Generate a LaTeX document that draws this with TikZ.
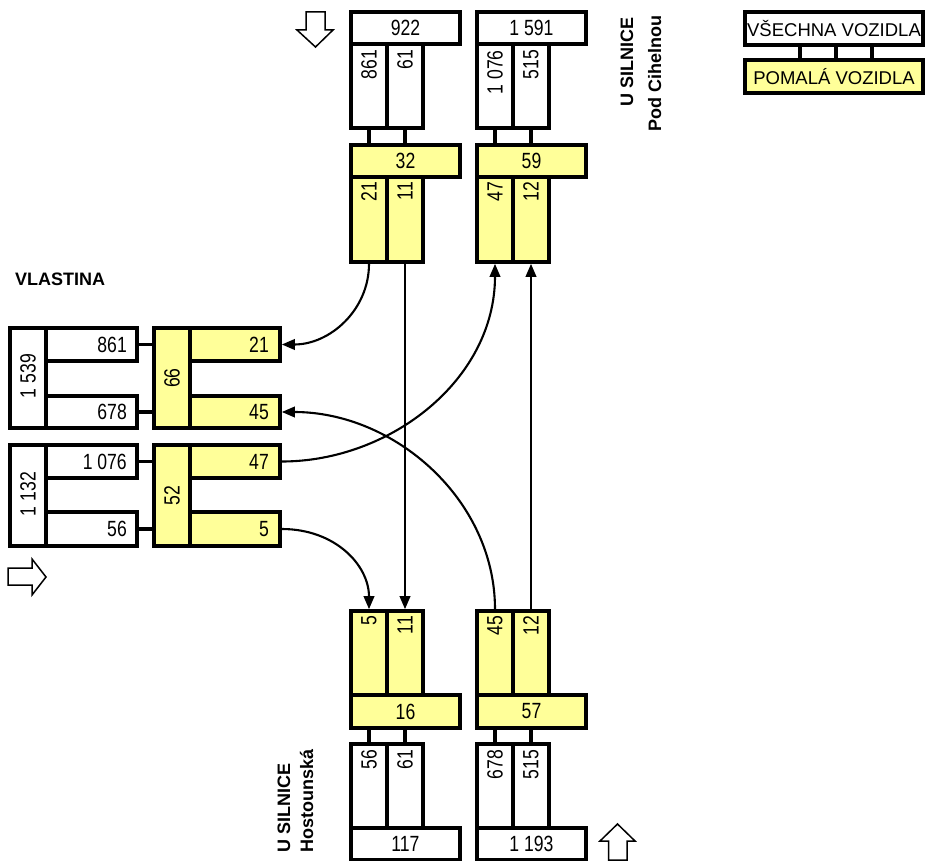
\documentclass[tikz,border=0pt]{standalone}
\usepackage{fontspec}
\setmainfont{Liberation Sans}
\newfontfamily\narrowf[FakeStretch=0.8]{Liberation Sans}
\usetikzlibrary{arrows.meta}
\definecolor{ylw}{RGB}{255,255,153}
\newcommand\rbx[6]{%
  \pgfmathsetmacro\cxx{(#3+#5)/2}\pgfmathsetmacro\cyy{(#4+#6)/2}%
  \pgfmathsetmacro\ww{#5-#3}\pgfmathsetmacro\hh{#6-#4}%
  \node[#1, minimum width=\ww pt, minimum height=\hh pt] (#2) at (\cxx,\cyy) {};}
\tikzset{
  bx/.style={draw, line width=3.6pt, inner sep=0pt, outer sep=0pt, rectangle},
  wbx/.style={bx, fill=white},
  ybx/.style={bx, fill=ylw},
  num/.style={font=\narrowf\fontsize{22}{26}\selectfont, inner sep=0pt},
  leg/.style={font=\fontsize{18.5}{22}\selectfont, inner sep=0pt},
  stub/.style={line width=3.2pt},
  flow/.style={line width=2.1pt, shorten <=1.8pt, shorten >=1.8pt, -{Triangle[length=13pt,width=10.5pt]}},
  lbl/.style={font=\bfseries\fontsize{18}{21}\selectfont, inner sep=0pt},
  blk/.style={draw, line width=1.5pt, fill=white, line join=miter},
}
\begin{document}
\begin{tikzpicture}[x=1pt,y=-1pt]
\useasboundingbox (0,0) rectangle (926,861);

% ---------- Group A (top left) ----------
\rbx{wbx}{A922}{351}{12}{460}{44}
\rbx{wbx}{Aw1}{351}{44}{387}{128}
\rbx{wbx}{Aw2}{387}{44}{423}{128}
\rbx{ybx}{A32}{351}{145}{460}{177}
\rbx{ybx}{Ay1}{351}{177}{387}{262}
\rbx{ybx}{Ay2}{387}{177}{423}{262}
\draw[stub] (Aw1.south) -- (Aw1.south |- A32.north);
\draw[stub] (Aw2.south) -- (Aw2.south |- A32.north);
\node[num] (tA922) at (A922) {922};
\node[num, rotate=90, anchor=east] (tAw1) at (369,50) {861};
\node[num, rotate=90, anchor=east] (tAw2) at (405,50) {61};
\node[num] (tA32) at (A32) {32};
\node[num, rotate=90, anchor=east] (tAy1) at (369,182) {21};
\node[num, rotate=90, anchor=east] (tAy2) at (405,182) {11};

% ---------- Group B (top right) ----------
\rbx{wbx}{B1591}{477}{12}{586}{44}
\rbx{wbx}{Bw1}{477}{44}{513}{128}
\rbx{wbx}{Bw2}{513}{44}{549}{128}
\rbx{ybx}{B59}{477}{145}{586}{177}
\rbx{ybx}{By1}{477}{177}{513}{262}
\rbx{ybx}{By2}{513}{177}{549}{262}
\draw[stub] (Bw1.south) -- (Bw1.south |- B59.north);
\draw[stub] (Bw2.south) -- (Bw2.south |- B59.north);
\node[num] (tB1591) at (B1591) {1 591};
\node[num, rotate=90, anchor=east] (tBw1) at (495,50) {1 076};
\node[num, rotate=90, anchor=east] (tBw2) at (531,50) {515};
\node[num] (tB59) at (B59) {59};
\node[num, rotate=90, anchor=east] (tBy1) at (495,182) {47};
\node[num, rotate=90, anchor=east] (tBy2) at (531,182) {12};

% ---------- Group C (bottom left) ----------
\rbx{ybx}{Cy1}{351}{611}{387}{695}
\rbx{ybx}{Cy2}{387}{611}{423}{695}
\rbx{ybx}{C16}{351}{695}{460}{728}
\rbx{wbx}{Cw1}{351}{744}{387}{828}
\rbx{wbx}{Cw2}{387}{744}{423}{828}
\rbx{wbx}{C117}{351}{828}{460}{859.5}
\draw[stub] (Cw1.north) -- (Cw1.north |- C16.south);
\draw[stub] (Cw2.north) -- (Cw2.north |- C16.south);
\node[num, rotate=90, anchor=east] (tCy1) at (369,616) {5};
\node[num, rotate=90, anchor=east] (tCy2) at (405,616) {11};
\node[num] (tC16) at (C16) {16};
\node[num, rotate=90, anchor=east] (tCw1) at (369,749.5) {56};
\node[num, rotate=90, anchor=east] (tCw2) at (405,749.5) {61};
\node[num] (tC117) at (C117) {117};

% ---------- Group D (bottom right) ----------
\rbx{ybx}{Dy1}{477}{611}{513}{695}
\rbx{ybx}{Dy2}{513}{611}{549}{695}
\rbx{ybx}{D57}{477}{695}{586}{728}
\rbx{wbx}{Dw1}{477}{744}{513}{828}
\rbx{wbx}{Dw2}{513}{744}{549}{828}
\rbx{wbx}{D1193}{477}{828}{586}{859.5}
\draw[stub] (Dw1.north) -- (Dw1.north |- D57.south);
\draw[stub] (Dw2.north) -- (Dw2.north |- D57.south);
\node[num, rotate=90, anchor=east] (tDy1) at (495,616) {45};
\node[num, rotate=90, anchor=east] (tDy2) at (531,616) {12};
\node[num] (tD57) at (D57) {57};
\node[num, rotate=90, anchor=east] (tDw1) at (495,749.5) {678};
\node[num, rotate=90, anchor=east] (tDw2) at (531,749.5) {515};
\node[num] (tD1193) at (D1193) {1 193};

% ---------- Group E (left, upper) ----------
\rbx{wbx}{E1539}{10}{328}{46}{428}
\rbx{wbx}{E861}{46}{328}{137}{361}
\rbx{wbx}{E678}{46}{396}{137}{428}
\rbx{ybx}{E66}{154}{328}{190}{428}
\rbx{ybx}{E21}{190}{328}{280}{361}
\rbx{ybx}{E45}{190}{396}{280}{428}
\draw[stub] (E861.east) -- (E861.east -| E66.west);
\draw[stub] (E678.east) -- (E678.east -| E66.west);
\node[num, rotate=90] (tE1539) at (28,376) {1 539};
\node[num, anchor=east] (tE861) at (127,344.5) {861};
\node[num, anchor=east] (tE678) at (127,412) {678};
\node[num, rotate=90] (tE66) at (172,378) {66};
\node[num, anchor=east] (tE21) at (269,344.5) {21};
\node[num, anchor=east] (tE45) at (269,412) {45};

% ---------- Group F (left, lower) ----------
\rbx{wbx}{F1132}{10}{445}{46}{546}
\rbx{wbx}{F1076}{46}{445}{137}{478}
\rbx{wbx}{F56}{46}{512}{137}{546}
\rbx{ybx}{F52}{154}{445}{190}{546}
\rbx{ybx}{F47}{190}{445}{280}{478}
\rbx{ybx}{F5}{190}{512}{280}{546}
\draw[stub] (F1076.east) -- (F1076.east -| F52.west);
\draw[stub] (F56.east) -- (F56.east -| F52.west);
\node[num, rotate=90] (tF1132) at (28,494) {1 132};
\node[num, anchor=east] (tF1076) at (127,461.5) {1 076};
\node[num, anchor=east] (tF56) at (127,529) {56};
\node[num, rotate=90] (tF52) at (172,495.5) {52};
\node[num, anchor=east] (tF47) at (269,461.5) {47};
\node[num, anchor=east] (tF5) at (269,529) {5};

% ---------- Flows ----------
\draw[flow] (Ay1.south) .. controls (369,310) and (330,344.5) .. (E21.east);
\draw[flow] (Ay2.south) -- (Cy2.north);
\draw[flow] (F47.east) .. controls (390,461.5) and (495,380) .. (By1.south);
\draw[flow] (Dy2.north) -- (By2.south);
\draw[flow] (Dy1.north) .. controls (495,500) and (395,412) .. (E45.east);
\draw[flow] (F5.east) .. controls (335,529) and (369,565) .. (Cy1.north);

% ---------- Block arrows ----------
\draw[blk] (306,12) -- (325,12) -- (325,30) -- (333,30) -- (315.5,47) -- (297,30) -- (306,30) -- cycle;
\draw[blk] (608.5,860) -- (627,860) -- (627,841) -- (635,841) -- (617.5,824) -- (600,841) -- (608.5,841) -- cycle;
\draw[blk] (8,568) -- (32,568) -- (32,559) -- (46,577) -- (32,595) -- (32,585) -- (8,585) -- cycle;

% ---------- Labels ----------
\node[lbl, anchor=west] (lV) at (15,279.5) {VLASTINA};
\node[lbl, rotate=90, anchor=base east] (lU1) at (633,17) {U SILNICE};
\node[lbl, rotate=90, anchor=base east] (lU2) at (661,15) {Pod Cihelnou};
\node[lbl, rotate=90, anchor=base west] (lH1) at (290,853) {U SILNICE};
\node[lbl, rotate=90, anchor=base west] (lH2) at (313,853) {Hostounská};

% ---------- Legend ----------
\rbx{wbx}{Lw}{745}{12}{923}{45}
\rbx{ybx}{Ly}{745}{60}{923}{93}
\draw[stub] (800,45) -- (800,60);
\draw[stub] (836,45) -- (836,60);
\draw[stub] (872,45) -- (872,60);
\node[leg] (tLw) at (Lw) {VŠECHNA VOZIDLA};
\node[leg] (tLy) at (Ly) {POMALÁ VOZIDLA};
\end{tikzpicture}
\end{document}
